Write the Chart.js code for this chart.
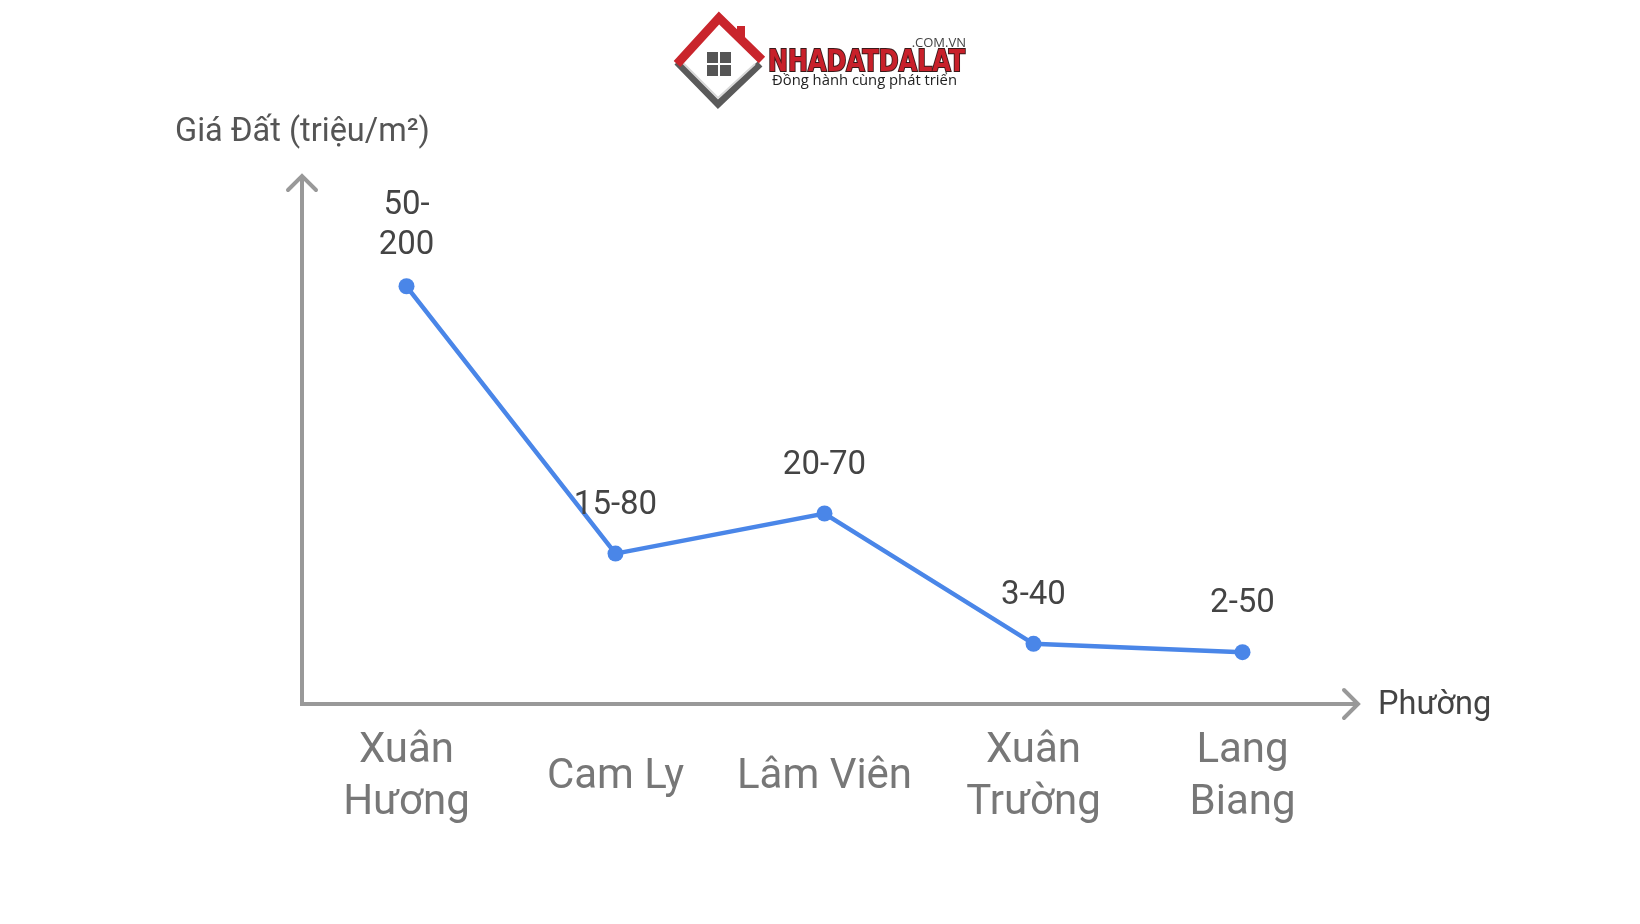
<!DOCTYPE html>
<html>
<head>
<meta charset="utf-8">
<script src="https://cdn.jsdelivr.net/npm/chart.js@4.4.1/dist/chart.umd.min.js"></script>
<style>
  html, body { margin: 0; padding: 0; background: #fff; }
  canvas { display: block; }
</style>
</head>
<body>
<canvas id="landChart" width="1640" height="924"></canvas>
<script>
// wards (x categories), multi-line where the picture breaks them
const wards = [["Xuân", "Hương"], "Cam Ly", "Lâm Viên", ["Xuân", "Trường"], ["Lang", "Biang"]];
// relative price level used for the point heights
const priceLevels = [125, 45, 57, 18, 15.5];
// price range labels shown above each point (triệu/m²)
const priceRanges = [["50-", "200"], ["15-80"], ["20-70"], ["3-40"], ["2-50"]];
const yMin = 0, yMax = 158;
const yTitle = "Giá Đất (triệu/m²)";
const xTitle = "Phường";

const axisColor = "#999999";
const lineColor = "#4a86e8";

function drawLogo(ctx) {
    ctx.save();
    // house diamond
    ctx.lineJoin = "miter";
    ctx.lineWidth = 7;
    ctx.strokeStyle = "#5a5a5a";
    ctx.beginPath();
    ctx.moveTo(677, 62);
    ctx.lineTo(718, 104);
    ctx.lineTo(760, 64);
    ctx.stroke();
    ctx.strokeStyle = "#d8d8d8";
    ctx.lineWidth = 2;
    ctx.beginPath();
    ctx.moveTo(682, 62);
    ctx.lineTo(718, 98);
    ctx.lineTo(755, 64);
    ctx.stroke();
    // red roof
    ctx.strokeStyle = "#c9252c";
    ctx.lineWidth = 9;
    ctx.beginPath();
    ctx.moveTo(677, 64);
    ctx.lineTo(719, 18);
    ctx.lineTo(762, 60);
    ctx.stroke();
    ctx.fillStyle = "#c9252c";
    ctx.fillRect(737, 26, 8, 12);
    // window
    ctx.fillStyle = "#555";
    ctx.fillRect(707, 52, 11, 11);
    ctx.fillRect(720, 52, 11, 11);
    ctx.fillRect(707, 65, 11, 11);
    ctx.fillRect(720, 65, 11, 11);

    // brand text
    ctx.textBaseline = "alphabetic";
    ctx.textAlign = "left";
    ctx.font = "bold 30px 'Liberation Sans Narrow', 'DejaVu Sans Condensed', sans-serif";
    const brand = "NHADATDALAT";
    const w = ctx.measureText(brand).width;
    ctx.save();
    ctx.translate(768, 71);
    ctx.scale(197 / w, 1);
    ctx.lineWidth = 2;
    ctx.strokeStyle = "#3a1a1a";
    ctx.strokeText(brand, 0, 0);
    ctx.fillStyle = "#c8202a";
    ctx.fillText(brand, 0, 0);
    ctx.restore();

    ctx.fillStyle = "#444";
    ctx.font = "13px 'Open Sans', sans-serif";
    ctx.textAlign = "right";
    ctx.fillText(".COM.VN", 966, 47);
    ctx.font = "15px 'Open Sans', sans-serif";
    ctx.textAlign = "left";
    const slogan = "Đồng hành cùng phát triển";
    const sw = ctx.measureText(slogan).width;
    ctx.save();
    ctx.translate(772, 85);
    ctx.scale(185 / sw, 1);
    ctx.fillStyle = "#222";
    ctx.fillText(slogan, 0, 0);
    ctx.restore();
    ctx.restore();
}

const decorPlugin = {
    id: "decor",
    beforeDatasetsDraw(chart) {
        const ctx = chart.ctx;
        const area = chart.chartArea;
        const ox = area.left, oy = area.bottom;
        const xEnd = area.right + 11;
        const yEnd = area.top;
        ctx.save();
        ctx.strokeStyle = axisColor;
        ctx.lineWidth = 4;
        ctx.lineCap = "butt";
        ctx.lineJoin = "miter";
        // axes
        ctx.beginPath();
        ctx.moveTo(ox, yEnd);
        ctx.lineTo(ox, oy);
        ctx.lineTo(xEnd, oy);
        ctx.stroke();
        // arrow heads
        ctx.lineCap = "round";
        ctx.beginPath();
        ctx.moveTo(ox - 14, yEnd + 14);
        ctx.lineTo(ox, yEnd);
        ctx.lineTo(ox + 14, yEnd + 14);
        ctx.moveTo(xEnd - 14, oy - 14);
        ctx.lineTo(xEnd, oy);
        ctx.lineTo(xEnd - 14, oy + 14);
        ctx.stroke();

        // axis titles
        ctx.fillStyle = "#555";
        ctx.font = "32.5px Roboto";
        ctx.textBaseline = "middle";
        ctx.textAlign = "left";
        ctx.fillText(yTitle, 175, 133);
        ctx.fillStyle = "#444";
        ctx.fillText(xTitle, xEnd + 20, oy + 2);
        ctx.restore();
        drawLogo(ctx);
    },
    afterDatasetsDraw(chart) {
        const ctx = chart.ctx;
        const meta = chart.getDatasetMeta(0);
        ctx.save();
        ctx.fillStyle = "#444";
        ctx.font = "33px Roboto";
        ctx.textAlign = "center";
        ctx.textBaseline = "middle";
        meta.data.forEach((pt, i) => {
            const lines = priceRanges[i];
            const gap = lines.length > 1 ? 41 : 48;
            for (let k = 0; k < lines.length; k++) {
                const fromBottom = lines.length - 1 - k;
                ctx.fillText(lines[k], pt.x, pt.y - gap - fromBottom * 40);
            }
        });
        ctx.restore();
    }
};

const ctx = document.getElementById("landChart").getContext("2d");
const chart = new Chart(ctx, {
    type: "line",
    data: {
        labels: wards,
        datasets: [{
            data: priceLevels,
            borderColor: lineColor,
            backgroundColor: lineColor,
            borderWidth: 4.5,
            pointRadius: 8,
            pointHoverRadius: 8,
            pointBorderWidth: 0,
            tension: 0,
            fill: false,
            clip: false
        }]
    },
    options: {
        responsive: false,
        animation: false,
        events: [],
        layout: { padding: { top: 176, right: 293, left: 0, bottom: 0 } },
        plugins: {
            legend: { display: false },
            tooltip: { enabled: false },
            title: { display: false }
        },
        scales: {
            x: {
                type: "category",
                offset: true,
                grid: { display: false, drawTicks: false },
                border: { display: false },
                ticks: {
                    color: "#777",
                    font: { family: "Roboto", size: 42, lineHeight: 1.25 },
                    padding: 47,
                    crossAlign: "center",
                    maxRotation: 0,
                    autoSkip: false
                },
                afterFit(scale) { scale.height = 220; }
            },
            y: {
                min: yMin,
                max: yMax,
                grid: { display: false, drawTicks: false },
                border: { display: false },
                ticks: { display: false },
                afterFit(scale) { scale.width = 302; }
            }
        }
    },
    plugins: [decorPlugin]
});
</script>
</body>
</html>
